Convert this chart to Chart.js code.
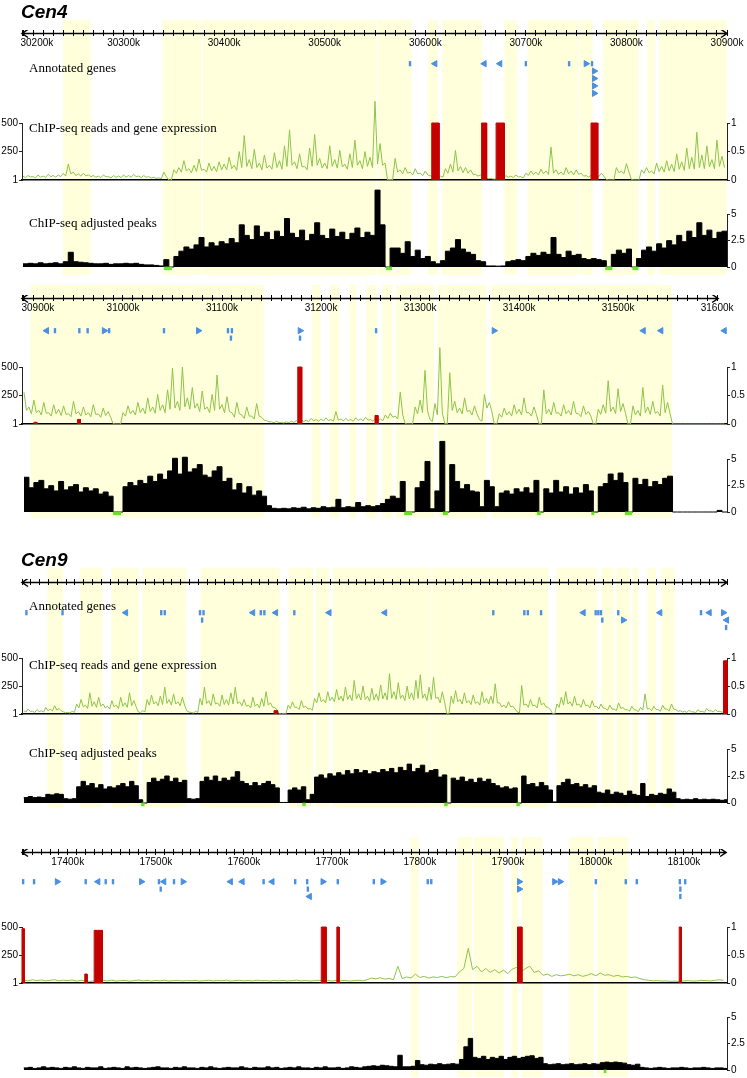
<!DOCTYPE html>
<html>
<head>
<meta charset="utf-8">
<script src="https://cdn.jsdelivr.net/npm/chart.js@4.4.1/dist/chart.umd.min.js"></script>
<style>
  body { margin: 0; background: #fff; width: 747px; height: 1078px; position: relative; overflow: hidden; }
  canvas { position: absolute; left: 0; }
  .txt { position: absolute; white-space: nowrap; line-height: 1; }
  .title { font: italic bold 19px 'Liberation Sans', Arial, sans-serif; }
  .track { font: 13px 'Liberation Serif', 'Times New Roman', serif; }
</style>
</head>
<body>
<script>
// ---- data (positions in kb; peaks in 5 kb bins, reads every 2.5 kb except the last panel) ----
const binSize = 5;
const readsTicks = [1, 250, 500];
const exprTicks = [0, 0.5, 1];
const peakTicks = [0, 2.5, 5];

// Cen4, 30200k - 30900k
const cen4aReads = [35,22,40,28,30,20,45,25,35,24,50,30,40,26,45,30,60,35,140,55,
  70,40,55,35,60,38,45,30,40,25,35,22,45,28,30,20,40,24,35,22,
  45,26,40,24,50,30,35,22,40,25,30,18,25,15,20,12,70,30,1,1,
  90,60,110,70,170,80,100,65,130,75,185,85,95,70,150,80,120,75,160,90,
  140,90,200,100,130,85,250,110,390,120,180,100,270,110,150,90,220,105,130,95,
  240,110,170,95,300,120,440,130,160,100,230,115,120,90,280,120,400,130,190,105,
  150,100,300,120,180,105,260,115,140,95,230,110,350,130,170,100,250,120,200,110,
  690,140,320,130,150,1,5,1,190,70,90,55,110,60,70,45,100,55,60,40,
  80,45,40,25,30,20,35,25,100,60,140,70,260,80,120,65,110,60,90,50,
  50,35,45,30,20,12,15,10,10,8,15,10,40,25,35,22,45,28,30,20,
  60,40,80,50,70,45,95,55,80,50,290,60,90,50,70,45,110,55,80,45,
  90,50,60,35,40,25,45,30,50,30,60,35,5,1,1,1,110,65,80,55,
  145,70,5,1,1,1,90,60,110,65,80,55,150,75,120,70,170,80,140,75,
  230,95,160,85,280,100,200,95,420,110,220,100,300,115,180,100,350,120,210,110];
const cen4aPeaks = [0.3,0.35,0.3,0.4,0.3,0.35,0.4,0.3,0.5,1.4, 0.5,0.45,0.4,0.35,0.3,0.3,0.35,0.25,0.3,0.3,
  0.35,0.3,0.35,0.25,0.2,0.2,0.15,0.1,0.7,0, 1.0,1.5,1.9,1.7,2.1,2.8,1.9,2.3,2.0,2.4, 2.2,2.7,2.3,4.0,3.0,2.6,3.9,2.9,3.3,2.6,
  3.4,2.9,4.6,3.2,2.8,3.5,2.5,3.1,4.2,3.0, 2.7,3.6,2.9,3.3,2.6,3.2,3.7,2.8,3.3,3.0, 7.3,4.0,0,1.8,1.8,1.3,2.4,1.0,1.6,0.8,
  1.0,0.5,0.3,0.6,1.5,1.8,2.6,1.7,1.4,1.2, 0.6,0.5,0.1,0.1,0.08,0.1,0.5,0.6,0.7,0.6, 1.0,1.3,1.1,1.4,1.2,2.8,1.2,0.9,1.5,1.1,
  1.2,0.8,0.7,0.8,0.7,0.6,0,1.2,1.6,1.3, 1.7,0,0.8,1.6,1.9,1.5,2.2,1.8,2.5,2.1, 3.0,2.4,3.4,2.8,4.2,3.0,3.5,2.7,3.3,3.4];
const cen4aExpr = [[30606.4,30613.7,1],[30656,30661,1],[30670.4,30678.6,1],[30764.8,30771.5,1]];
const cen4aGenes = [[30584.8,1,'b'],[30609.7,1,'L'],[30658.7,1,'L'],[30674.3,1,'L'],[30700,1,'b'],[30743,1,'b'],
  [30759.8,1,'R'],[30765.8,1,'b'],[30768,2,'R'],[30768,3,'R'],[30768,4,'R'],[30768,5,'R']];
const cen4aShade = [[30240,30267],[30339,30377],[30379,30551],[30553,30586],[30603,30612],[30617,30656],
  [30679,30691],[30702,30752],[30754,30766],[30777,30812],[30821,30828],[30833,30899]];
const cen4aMarks = [[30340,30348],[30561,30567],[30779,30786],[30806,30812]];

// Cen4, 30900k - 31600k
const cen4bReads = [280,120,150,90,210,100,120,80,190,95,100,70,170,90,130,75,160,85,90,65,
  200,90,110,70,150,80,100,65,170,85,90,60,140,75,110,60,5,1,1,1,
  100,70,160,90,120,80,190,100,140,90,230,110,150,95,260,120,170,100,300,130,
  490,140,200,120,500,150,230,130,320,140,180,110,290,130,150,100,260,120,430,130,
  170,100,240,110,100,60,190,90,80,50,150,70,70,45,180,70,60,35,30,20,
  20,12,25,15,15,10,20,12,25,15,30,18,40,22,35,20,50,28,40,25,
  45,28,55,30,40,25,110,35,45,28,50,30,40,25,55,32,45,28,60,35,
  40,25,50,30,45,30,80,50,95,60,70,45,280,80,5,1,1,1,150,90,
  210,100,470,120,40,25,180,80,670,100,5,1,450,120,200,100,140,90,230,110,
  120,80,160,90,40,25,260,140,190,110,1,1,90,60,140,80,110,70,170,90,
  130,80,230,100,100,70,150,85,5,1,300,90,130,80,190,95,100,70,170,90,
  120,80,200,95,90,65,160,85,110,70,1,1,130,85,170,95,380,110,150,90,
  310,110,180,95,1,1,160,80,120,70,320,100,150,85,200,95,110,70,340,100,
  190,90,1,1,1,1,1,1,1,1,1,1,1,1,1,1,1,1,1,1,1,1,1,1];
const cen4bPeaks = [3.3,2.3,2.8,3.0,2.2,2.5,2.0,2.9,2.1,2.4, 2.6,1.9,2.3,2.0,2.2,1.7,1.9,1.5,0,0,
  2.4,2.8,2.5,3.0,2.7,3.4,2.9,3.6,3.1,3.9, 5.1,3.6,5.2,3.8,4.1,4.5,3.5,3.3,3.9,4.3, 2.9,3.2,2.1,2.7,1.8,2.4,1.6,2.0,1.5,0.6,
  0.35,0.3,0.35,0.3,0.4,0.35,0.45,0.3,0.4,0.35, 0.5,0.4,0.45,1.2,0.4,0.5,0.45,0.9,0.5,0.6, 0.5,0.6,0.8,1.2,1.5,1.3,2.9,0,0,2.3,
  2.9,4.8,0.3,2.0,6.7,0,4.5,2.9,2.2,2.6, 2.0,1.9,0.5,3.0,2.4,0.5,1.8,2.0,1.7,2.2, 1.9,2.3,1.8,3.0,0,2.2,1.8,3.0,1.9,2.4,
  1.7,2.3,1.8,2.6,2.0,0,2.4,2.7,3.6,3.0, 3.7,2.8,0,3.2,2.6,3.1,2.4,2.9,2.6,3.2, 3.4,0,0,0,0,0,0,0,0,0, 0.15,0];
const cen4bExpr = [[30910,30913,0.03],[30954,30957,0.08],[31176.5,31180.5,1],[31254.5,31257.5,0.15]];
const cen4bGenes = [[30922.9,1,'L'],[30931.3,1,'b'],[30955.9,1,'b'],[30964.3,1,'b'],[30981,1,'R'],[30986,1,'b'],
  [31041.4,1,'b'],[31076.1,1,'R'],[31106,1,'b'],[31110,1,'b'],[31109,2,'b'],[31178.8,1,'R'],[31178.8,2,'b'],
  [31255.6,1,'b'],[31374.7,1,'R'],[31525.6,1,'L'],[31543.4,1,'L'],[31607.4,1,'L']];
const cen4bShade = [[30907,31142],[31191,31199],[31209,31218],[31229,31235],[31246,31256],[31262,31272],
  [31276,31314],[31318,31367],[31372,31554]];
const cen4bMarks = [[30990,30998],[31284,31292],[31323,31328],[31418,31422],[31473,31476],[31507,31514]];

// Cen9, 16550k - 17350k
const cen9aReads = [30,18,45,25,25,15,40,22,30,18,60,30,45,28,75,35,50,30,20,12,
  15,10,25,15,90,55,130,65,80,50,190,70,110,60,150,70,90,55,70,45,
  120,65,80,50,150,70,100,60,190,75,120,65,20,12,30,20,130,80,170,90,
  110,75,160,85,240,95,130,80,180,90,110,75,150,80,30,18,15,10,25,15,
  140,80,240,95,120,75,180,90,100,70,170,85,130,80,190,90,240,95,110,75,
  130,70,80,55,150,70,90,55,140,70,200,80,100,60,60,35,5,1,5,1,
  80,50,110,60,60,40,120,60,70,45,50,35,140,100,190,110,130,100,200,120,
  150,110,220,125,160,115,240,130,170,120,300,135,180,125,250,130,160,115,230,125,
  180,120,260,135,190,125,360,140,200,130,280,140,170,120,250,135,190,125,300,140,
  350,140,180,120,240,130,330,140,150,100,200,110,5,1,160,95,210,110,130,90,
  190,100,120,85,170,95,110,80,200,100,140,90,160,95,270,100,100,65,80,55,
  110,65,70,45,20,10,255,80,90,60,130,75,80,55,150,80,100,65,60,40,
  5,1,90,60,150,80,200,90,110,70,160,80,90,60,130,75,80,55,120,65,
  70,45,90,55,50,35,80,45,45,30,100,50,60,38,40,25,70,40,35,22,
  60,35,180,45,50,30,70,40,40,25,80,45,45,28,90,45,40,25,30,18,
  25,15,35,20,20,12,40,22,25,15,50,28,30,18,40,22,25,15,30,18];
const cen9aPeaks = [0.5,0.6,0.5,0.55,0.5,0.8,0.75,0.85,0.8,0.4, 0.35,0.4,1.5,2.0,1.6,1.8,1.4,1.7,1.3,1.5,
  1.4,1.6,1.8,1.5,2.0,1.6,0.3,0,1.9,2.3, 2.0,2.2,2.5,2.0,2.3,1.9,2.1,0.4,0.35,0.4, 2.0,2.4,2.1,2.5,2.0,2.3,2.1,2.4,2.9,2.0,
  1.8,1.6,1.9,1.6,1.8,2.0,1.7,1.4,0.05,0.05, 1.2,1.4,1.2,1.5,0.3,0.8,2.4,2.6,2.3,2.7, 2.5,2.8,2.6,3.0,2.7,3.1,2.8,3.0,2.7,2.9,
  2.8,3.1,2.9,3.2,2.8,3.3,3.0,3.6,2.9,3.2, 3.5,2.8,3.0,3.1,2.4,2.6,0,2.3,2.1,2.4, 2.0,2.2,1.9,2.3,2.0,2.2,1.8,1.6,1.4,1.5,
  1.3,1.4,0,2.5,1.7,1.8,1.5,1.9,1.6,1.2, 0.1,1.6,1.9,2.2,1.7,1.8,1.5,1.7,1.4,1.6, 1.0,0.9,1.2,0.8,1.0,0.9,0.7,1.1,0.8,0.7,
  1.8,0.6,0.8,0.7,0.9,0.8,1.3,1.0,0.4,0.3, 0.35,0.3,0.4,0.3,0.35,0.3,0.35,0.3,0.25,0.3];
const cen9aExpr = [[16834,16838,0.06],[17344,17348,0.95]];
const cen9aGenes = [[16553,1,'b'],[16594,1,'b'],[16665.8,1,'L'],[16706,1,'b'],[16710,1,'b'],[16750,1,'b'],[16754,1,'b'],
  [16752.4,2,'b'],[16810,1,'L'],[16819,1,'b'],[16823,1,'b'],[16836,1,'L'],[16857,1,'b'],[16896.6,1,'L'],[16959.8,1,'L'],
  [17082.8,1,'b'],[17118,1,'b'],[17122,1,'b'],[17137,1,'b'],[17185,1,'L'],[17199,1,'b'],[17202,1,'b'],[17205,1,'b'],
  [17206.5,2,'b'],[17224.6,1,'b'],[17230.3,2,'R'],[17272,1,'L'],[17318.5,1,'b'],[17328,1,'L'],[17343.8,1,'R'],
  [17347.7,2,'L'],[17347,3,'b']];
const cen9aShade = [[16577,16594],[16614,16639],[16650,16680],[16685,16734],[16751,16840],[16851,16878],[16882,16896],
  [16901,17012],[17014,17145],[17155,17200],[17206,17219],[17223,17237],[17241,17247],[17258,17267],[17274,17288]];
const cen9aMarks = [[16683,16687],[16866,16870],[17027,17031],[17109,17113]];

// Cen9, 17350k - 18150k
const cen9bReads = [25,20,30,22,28,20,25,30,20,26, 22,28,18,25,20,15,20,18,25,20, 27,18,22,25,17,22,28,20,25,18,
  24,20,26,18,22,25,19,23,20,25, 18,22,26,19,24,20,27,18,22,25, 20,24,19,26,21,23,18,25,20,24,
  19,22,27,20,24,18,22,25,20,23, 19,25,21,24,18,22,26,20,30,45, 38,48,35,42,30,150,40,55,45,80,
  50,60,45,55,50,60,48,58,55,100, 130,310,120,150,100,130,95,120,90,115, 85,125,140,100,130,150,95,110,70,80,
  60,75,65,70,80,65,75,60,70,85, 65,90,70,75,60,70,55,60,50,55, 40,30,25,20,22,18,20,15,18,15, 20,22,18,20,25,22,20,24,30,25];
const cen9bPeaks = [0.2,0.25,0.15,0.2,0.3,0.2,0.25,0.2,0.15,0.25, 0.2,0.3,0.2,0.15,0.25,0.2,0.2,0.3,0.15,0.2,
  0.25,0.2,0.15,0.3,0.2,0.25,0.2,0.15,0.2,0.25, 0.3,0.2,0.2,0.15,0.25,0.2,0.3,0.2,0.2,0.15, 0.25,0.2,0.3,0.2,0.15,0.2,0.25,0.2,0.2,0.3,
  0.2,0.15,0.25,0.2,0.2,0.3,0.2,0.25,0.15,0.2, 0.25,0.2,0.3,0.2,0.2,0.15,0.25,0.2,0.3,0.2, 0.2,0.25,0.15,0.2,0.3,0.25,0.2,0.3,0.35,0.4,
  0.35,0.45,0.4,0.35,0.3,1.4,0.3,0.3,0.35,0.9, 0.5,0.45,0.55,0.5,0.6,0.5,0.55,0.6,0.55,1.0, 2.2,3.0,1.2,1.1,1.3,1.0,1.2,1.1,1.3,1.0,
  1.2,1.3,1.1,1.2,1.3,1.35,1.1,1.2,0.6,0.5, 0.55,0.6,0.5,0.55,0.6,0.5,0.55,0.6,0.5,0.6, 0.55,0.7,0.75,0.7,0.75,0.7,0.65,0.5,0.45,0.55,
  0.25,0.2,0.15,0.2,0.25,0.2,0.15,0.2,0.2,0.25, 0.2,0.15,0.2,0.2,0.25,0.2,0.15,0.2,0.2,0.15];
const cen9bExpr = [[17348,17350.5,0.97],[17419.3,17422,0.16],[17430,17439.4,0.94],[17688,17693.6,1],[17705.7,17708.3,1],
  [17911,17916,1],[18094.7,18097,1]];
const cen9bGenes = [[17349.3,1,'b'],[17361.7,1,'b'],[17387.9,1,'R'],[17420.4,1,'b'],[17434.4,1,'L'],[17443.1,1,'b'],
  [17451.4,1,'b'],[17483.6,1,'R'],[17503.6,1,'b'],[17505.6,2,'b'],[17509.3,1,'L'],[17520.7,1,'b'],[17530.9,1,'R'],
  [17585,1,'L'],[17598.3,1,'L'],[17622.5,1,'b'],[17632.3,1,'L'],[17658.4,1,'b'],[17672,1,'b'],[17672.8,2,'b'],
  [17674.7,3,'L'],[17689.8,1,'R'],[17706.8,1,'b'],[17747.7,1,'b'],[17757.9,1,'R'],[17809,1,'b'],[17813,1,'b'],
  [17913,1,'R'],[17913,2,'R'],[17953,1,'R'],[17959.4,1,'R'],[18000,1,'b'],[18034,1,'b'],[18046.5,1,'b'],
  [18095.4,1,'b'],[18101.5,1,'b'],[18096,2,'b'],[18096,3,'b']];
const cen9bShade = [[17790,17798],[17843,17859],[17862,17895],[17904,17911],[17916,17939],[17970,17997],[18002,18036]];
const cen9bMarks = [[18009,18012]];

// ---- layout of the four panels (pixels) ----
const panels = [
  { title: 'Cen4', titleTop: 1, min: 30199, max: 30900, axisEnd: 30900, start: 30200, readsStep: 2.5,
    reads: cen4aReads, peaks: cen4aPeaks, expr: cen4aExpr, genes: cen4aGenes, shade: cen4aShade, marks: cen4aMarks,
    shadeTop: 20, shadeBot: 275, axisY: 33, genesY: 64, readsTop: 123, readsBot: 180, peaksTop: 211, peaksBot: 267,
    labelTops: [60, 120, 215] },
  { min: 30898, max: 31610, axisEnd: 31601, start: 30900, readsStep: 2.5,
    reads: cen4bReads, peaks: cen4bPeaks, expr: cen4bExpr, genes: cen4bGenes, shade: cen4bShade, marks: cen4bMarks,
    shadeTop: 285, shadeBot: 518, axisY: 298, genesY: 331, readsTop: 367, readsBot: 424, peaksTop: 456, peaksBot: 512 },
  { title: 'Cen9', titleTop: 549, min: 16548, max: 17348, axisEnd: 17348, start: 16550, readsStep: 2.5,
    reads: cen9aReads, peaks: cen9aPeaks, expr: cen9aExpr, genes: cen9aGenes, shade: cen9aShade, marks: cen9aMarks,
    shadeTop: 568, shadeBot: 807, axisY: 582, genesY: 613, readsTop: 658, readsBot: 714, peaksTop: 745, peaksBot: 802,
    labelTops: [598, 657, 745] },
  { min: 17348, max: 18149, axisEnd: 18148, start: 17350, readsStep: 5,
    reads: cen9bReads, peaks: cen9bPeaks, expr: cen9bExpr, genes: cen9bGenes, shade: cen9bShade, marks: cen9bMarks,
    shadeTop: 837, shadeBot: 1077, axisY: 852, genesY: 882, readsTop: 927, readsBot: 983, peaksTop: 1014, peaksBot: 1070 }
];

const GREEN = '#8cc448', RED = '#c40000', BLUE = '#4a8fe2', SHADE = '#ffffdc', MARK = '#66e22e';
const PEAK_MAX = 7.5;   // head room above the "5" tick for tall peaks

Chart.defaults.font.family = "'Liberation Sans', Arial, sans-serif";
Chart.defaults.font.size = 10;
Chart.defaults.color = '#000';

function addCanvas(top, height) {
  const c = document.createElement('canvas');
  c.width = 747;
  c.height = Math.round(height);
  c.style.top = Math.round(top) + 'px';
  document.body.appendChild(c);
  return c;
}

function addText(txt, cls, left, top) {
  const d = document.createElement('div');
  d.className = 'txt ' + cls;
  d.textContent = txt;
  d.style.left = left + 'px';
  d.style.top = top + 'px';
  document.body.appendChild(d);
}

function baseOptions(pad) {
  return {
    responsive: false, animation: false, events: [],
    layout: { padding: pad, autoPadding: false },
    plugins: { legend: { display: false }, tooltip: { enabled: false } }
  };
}

const fixedTicks = list => s => { s.ticks = list.map(v => ({ value: v })); };

function sideAxis(position, min, max, list, width, showBorder) {
  return {
    type: 'linear', position, min, max,
    afterBuildTicks: fixedTicks(list),
    afterFit: s => { s.width = width; },
    ticks: { padding: 1, autoSkip: false, callback: v => String(v) },
    grid: { drawOnChartArea: false, tickLength: 3, color: '#222' },
    border: { display: showBorder, color: '#222', width: 1 }
  };
}

// axis line with arrow heads at both ends
const arrowAxis = {
  id: 'arrowAxis',
  afterDraw(chart, args, o) {
    const ctx = chart.ctx, xs = chart.scales.x, y = chart.chartArea.bottom + 0.5;
    const x0 = xs.getPixelForValue(o.from), x1 = xs.getPixelForValue(o.to);
    ctx.save();
    ctx.strokeStyle = '#000';
    ctx.lineWidth = 1.5;
    ctx.beginPath();
    ctx.moveTo(x0, y); ctx.lineTo(x1, y);
    ctx.moveTo(x0 + 6, y - 4); ctx.lineTo(x0, y); ctx.lineTo(x0 + 6, y + 4);
    ctx.moveTo(x1 - 6, y - 4); ctx.lineTo(x1, y); ctx.lineTo(x1 - 6, y + 4);
    ctx.stroke();
    ctx.restore();
  }
};

// axis border that only runs between two values (peaks axis stops at 5)
const partialBorder = {
  id: 'partialBorder',
  afterDraw(chart, args, o) {
    const s = chart.scales[o.axis], ctx = chart.ctx;
    const x = Math.round(s.left) + 0.5;
    ctx.save();
    ctx.strokeStyle = '#222';
    ctx.lineWidth = 1;
    ctx.beginPath();
    ctx.moveTo(x, s.getPixelForValue(o.from));
    ctx.lineTo(x, s.getPixelForValue(o.to));
    ctx.stroke();
    ctx.restore();
  }
};

panels.forEach(p => {
  // yellow background regions
  new Chart(addCanvas(p.shadeTop, p.shadeBot - p.shadeTop), {
    type: 'bar',
    data: { labels: ['s'], datasets: [{
      data: p.shade.map(r => ({ y: 's', x: r })),
      backgroundColor: SHADE, borderWidth: 0, categoryPercentage: 1, barPercentage: 1
    }] },
    options: Object.assign(baseOptions({ left: 22, right: 20, top: 0, bottom: 0 }), {
      indexAxis: 'y',
      scales: { x: { type: 'linear', min: p.min, max: p.max, display: false }, y: { display: false } }
    })
  });

  // genomic position axis
  const axisOpts = baseOptions({ left: 22, right: 20, top: 0, bottom: 0 });
  axisOpts.plugins.arrowAxis = { from: p.min, to: p.axisEnd };
  axisOpts.scales = {
    x: {
      type: 'linear', min: p.min, max: p.max, position: 'bottom',
      afterBuildTicks: s => {
        s.ticks = [{ value: p.min }].concat(s.ticks.filter(t => t.value > p.min && t.value <= p.axisEnd));
      },
      afterFit: s => { s.height = 17; },
      ticks: {
        stepSize: 10, maxTicksLimit: 1000, autoSkip: false, includeBounds: false, maxRotation: 0, padding: 1,
        callback: v => v % 100 === 0 ? (v - p.min < 8 ? '          ' + v + 'k' : v + 'k') : ''
      },
      grid: { color: '#000', lineWidth: 1, tickLength: 3, drawOnChartArea: true },
      border: { display: false }
    },
    y: { display: false }
  };
  new Chart(addCanvas(p.axisY - 3, 20), {
    type: 'scatter', data: { datasets: [] }, options: axisOpts, plugins: [arrowAxis]
  });

  // annotated genes
  new Chart(addCanvas(p.genesY - 3.65, 37), {
    type: 'scatter',
    data: { datasets: [{
      data: p.genes.map(g => ({ x: g[0], y: g[1], k: g[2] })),
      pointStyle: c => (c.raw && c.raw.k === 'b') ? 'line' : 'triangle',
      rotation: c => (c.raw && c.raw.k === 'L') ? -90 : 90,
      radius: c => (c.raw && c.raw.k === 'b') ? 2.6 : 3.6,
      borderWidth: c => (c.raw && c.raw.k === 'b') ? 2.4 : 1,
      backgroundColor: BLUE, borderColor: BLUE, clip: false
    }] },
    options: Object.assign(baseOptions({ left: 22, right: 20, top: 0, bottom: 0 }), {
      scales: {
        x: { type: 'linear', min: p.min, max: p.max, display: false },
        y: { type: 'linear', min: 0.5, max: 5.5, reverse: true, display: false }
      }
    })
  });

  // ChIP-seq reads (green) and gene expression (red)
  const exprSets = p.expr.map(([s, e, v]) => ({
    data: [{ x: s, y: 0 }, { x: s, y: v }, { x: e, y: v }, { x: e, y: 0 }],
    yAxisID: 'yE', borderColor: RED, backgroundColor: RED, borderWidth: 1, fill: 'origin', pointRadius: 0, clip: false
  }));
  const readsSet = {
    data: p.reads.map((v, i) => ({ x: p.start + i * p.readsStep, y: v })),
    yAxisID: 'yR', borderColor: GREEN, borderWidth: 1, pointRadius: 0, fill: false,
    clip: { left: 0, right: 0, top: false, bottom: 0 }
  };
  new Chart(addCanvas(p.readsTop - 30, p.readsBot - p.readsTop + 38), {
    type: 'line',
    data: { datasets: exprSets.concat([readsSet]) },
    options: Object.assign(baseOptions({ left: 0, right: 0, top: 30, bottom: 0 }), {
      scales: {
        x: {
          type: 'linear', min: p.min, max: p.max,
          afterFit: s => { s.height = 8; },
          ticks: { display: false }, grid: { display: false },
          border: { display: true, color: '#000', width: 1.5 }
        },
        yR: sideAxis('left', 1, 500, readsTicks, 22, true),
        yE: sideAxis('right', 0, 1, exprTicks, 20, true)
      }
    })
  });

  // ChIP-seq adjusted peaks (black) and green marks
  const peakData = p.peaks.map((v, i) => ({ x: p.start + i * binSize, y: v }));
  peakData.push({ x: p.start + p.peaks.length * binSize, y: p.peaks[p.peaks.length - 1] });
  const markSets = p.marks.map(([s, e]) => ({
    data: [{ x: s, y: -0.13 }, { x: e, y: -0.13 }],
    yAxisID: 'yP', borderColor: MARK, borderWidth: 3.5, pointRadius: 0, fill: false, clip: false
  }));
  const unitPx = (p.peaksBot - p.peaksTop) / 5;
  const headRoom = (PEAK_MAX - 5) * unitPx;
  const peakOpts = Object.assign(baseOptions({ left: 22, right: 0, top: 2, bottom: 0 }), {
    scales: {
      x: {
        type: 'linear', min: p.min, max: p.max,
        afterFit: s => { s.height = 8; },
        ticks: { display: false }, grid: { display: false }, border: { display: false }
      },
      yP: sideAxis('right', 0, PEAK_MAX, peakTicks, 20, false)
    }
  });
  peakOpts.plugins.partialBorder = { axis: 'yP', from: 0, to: 5 };
  new Chart(addCanvas(p.peaksTop - headRoom - 2, 2 + headRoom + (p.peaksBot - p.peaksTop) + 8), {
    type: 'line',
    data: { datasets: markSets.concat([{
      data: peakData, yAxisID: 'yP', stepped: true, fill: 'origin',
      backgroundColor: '#000', borderColor: '#000', borderWidth: 1, pointRadius: 0,
      clip: { left: 0, right: 1, top: false, bottom: false }
    }]) },
    options: peakOpts,
    plugins: [partialBorder]
  });

  // text
  if (p.title) addText(p.title, 'title', 21, p.titleTop);
  if (p.labelTops) {
    addText('Annotated genes', 'track', 29, p.labelTops[0]);
    addText('ChIP-seq reads and gene expression', 'track', 29, p.labelTops[1]);
    addText('ChIP-seq adjusted peaks', 'track', 29, p.labelTops[2]);
  }
});
</script>
</body>
</html>
